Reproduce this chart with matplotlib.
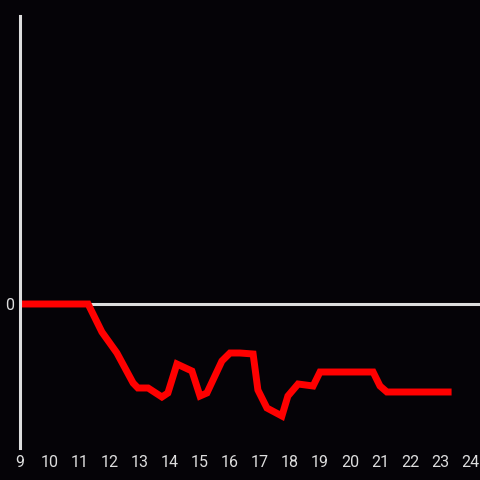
import matplotlib
matplotlib.use("Agg")
import matplotlib.pyplot as plt

# series
hours = [9, 11.27, 11.73, 12.23, 12.77, 12.93, 13.27, 13.73, 13.93, 14.23, 14.73,
         15.0, 15.23, 15.73, 16.0, 16.33, 16.77, 16.93, 17.23, 17.73, 17.93,
         18.27, 18.77, 19.0, 20.77, 21.0, 21.23, 23.27]
values = [0, 0, -2.8, -4.9, -7.9, -8.4, -8.4, -9.3, -8.9, -6.0, -6.7,
          -9.2, -8.9, -5.7, -4.9, -4.9, -5.0, -8.6, -10.4, -11.2, -9.2,
          -8.0, -8.2, -6.8, -6.8, -8.2, -8.8, -8.8]
xticks = list(range(9, 25))
yticks = [0]

bg = "#050307"
axis_col = "#dddddd"

plt.rcParams['font.family'] = ['Roboto', 'DejaVu Sans']

fig = plt.figure(figsize=(4.8, 4.8), dpi=100, facecolor=bg)
ax = fig.add_axes([20 / 480, 32 / 480, 460 / 480, 432 / 480], facecolor=bg)

ax.axhline(0, color=axis_col, lw=2.2, zorder=1)
ax.plot(hours, values, color="#ff0000", lw=5, solid_joinstyle="miter", zorder=2)

ax.set_xlim(9, 24.333)
ax.set_ylim(-14.4, 28.8)
ax.set_xticks(xticks)
ax.set_yticks(yticks)
ax.tick_params(length=0, colors=axis_col, labelsize=11.5)
ax.tick_params(axis="x", pad=5)
ax.tick_params(axis="y", pad=4)

for s in ["top", "right", "bottom"]:
    ax.spines[s].set_visible(False)
ax.spines["left"].set_color(axis_col)
ax.spines["left"].set_linewidth(2.2)

fig.savefig("out.png", dpi=100, facecolor=bg)
